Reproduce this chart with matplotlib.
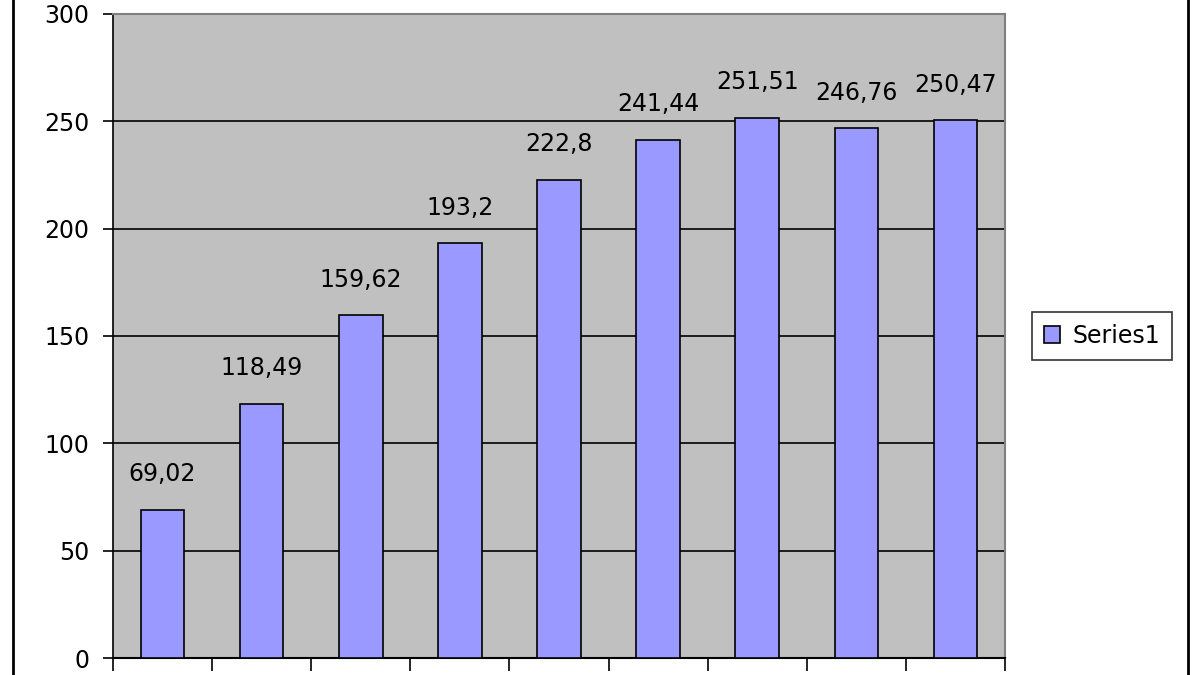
import matplotlib
matplotlib.use("Agg")
import matplotlib.pyplot as plt
from matplotlib.lines import Line2D

values = [69.02, 118.49, 159.62, 193.2, 222.8, 241.44, 251.51, 246.76, 250.47]
labels = ["69,02", "118,49", "159,62", "193,2", "222,8", "241,44", "251,51", "246,76", "250,47"]
series_name = "Series1"
yticks = [0, 50, 100, 150, 200, 250, 300]

plt.rcParams['font.family'] = ['DejaVu Sans']

fig = plt.figure(figsize=(12, 6.75), dpi=100)
fig.patch.set_facecolor('white')
ax = fig.add_axes([113/1200, 1-658/675, (1005-113)/1200, (658-14)/675])
ax.set_facecolor('#C0C0C0')

x = list(range(len(values)))
bars = ax.bar(x, values, width=0.44, color='#9999FF', edgecolor='black', linewidth=1.2,
              label=series_name, zorder=3)
for xi, v, lab in zip(x, values, labels):
    ax.annotate(lab, (xi, v), xytext=(0, 17), textcoords='offset points',
                ha='center', va='bottom', fontsize=17, color='black')

ax.set_xlim(-0.5, len(values) - 0.5)
ax.set_ylim(0, 300)
ax.set_yticks(yticks)
ax.set_yticklabels([str(t) for t in yticks], fontsize=17)
ax.yaxis.grid(True, color='black', linewidth=1.2, zorder=1)
ax.set_axisbelow(True)
ax.set_xticks([i - 0.5 for i in range(len(values) + 1)])
ax.set_xticklabels([])
ax.tick_params(axis='x', direction='out', length=9, width=1.2, color='black')
ax.tick_params(axis='y', direction='out', length=7, width=1.2, color='black', pad=10)

ax.spines['left'].set_color('black')
ax.spines['left'].set_linewidth(1.2)
ax.spines['bottom'].set_color('black')
ax.spines['bottom'].set_linewidth(1.5)
ax.spines['top'].set_color('#808080')
ax.spines['right'].set_color('#808080')
ax.spines['top'].set_linewidth(1.5)
ax.spines['right'].set_linewidth(1.5)

leg = ax.legend(loc='center left', bbox_to_anchor=(1032/1200, 1-336/675),
                bbox_transform=fig.transFigure, frameon=True, fancybox=False,
                fontsize=17, handlelength=0.7, handleheight=0.7, handletextpad=0.5,
                borderpad=0.5, borderaxespad=0)
leg.get_frame().set_edgecolor('black')
leg.get_frame().set_linewidth(1.2)

fig.add_artist(Line2D([13/1200, 13/1200], [0, 1], transform=fig.transFigure, color='black', linewidth=2))
fig.add_artist(Line2D([1188/1200, 1188/1200], [0, 1], transform=fig.transFigure, color='black', linewidth=2))

fig.savefig('out.png', dpi=100, facecolor='white')
